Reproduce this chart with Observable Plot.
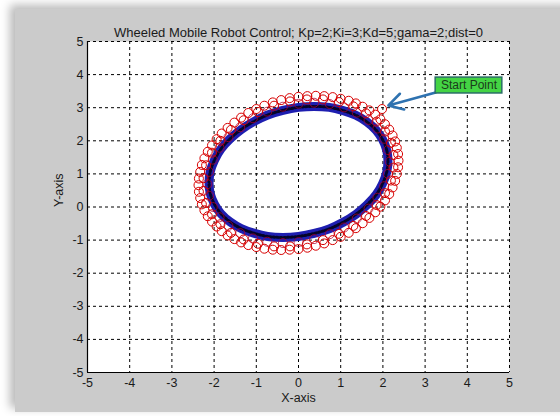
<!DOCTYPE html>
<html>
<head>
<meta charset="utf-8">
<script src="https://cdn.jsdelivr.net/npm/d3@7"></script>
<script src="https://cdn.jsdelivr.net/npm/@observablehq/plot@0.6"></script>
<style>
  html, body { margin: 0; padding: 0; background: #ffffff; width: 560px; height: 416px; overflow: hidden; }
  #panel { position: absolute; left: 15px; top: 9px; width: 560px; height: 403px; background: #cbcbcb;
           box-shadow: -5px -4px 9px rgba(0,0,0,0.28); }
  #chart { position: absolute; left: 0; top: 0; }
</style>
</head>
<body>
<div id="panel"></div>
<div id="chart"></div>
<script>
// ---- data ----
const titleText = "Wheeled Mobile Robot Control; Kp=2;Ki=3;Kd=5;gama=2;dist=0";
const xLabel = "X-axis";
const yLabel = "Y-axis";
const xTicks = [-5, -4, -3, -2, -1, 0, 1, 2, 3, 4, 5];
const yTicks = [-5, -4, -3, -2, -1, 0, 1, 2, 3, 4, 5];

// red circle markers, outer lap
const trajX1 = [2.37,2.36,2.33,2.29,2.23,2.15,2.05,1.94,1.82,1.68,1.52,1.36,1.19,1.00,0.81,0.61,0.41,0.21,0,
  -0.21,-0.41,-0.61,-0.81,-1.00,-1.19,-1.36,-1.52,-1.68,-1.82,-1.94,-2.05,-2.15,-2.23,-2.29,-2.33,-2.36,-2.37,
  -2.36,-2.33,-2.29,-2.23,-2.15,-2.05,-1.94,-1.82,-1.68,-1.52,-1.36,-1.19,-1.00,-0.81,-0.61,-0.41,-0.21,0,
  0.21,0.41,0.61,0.81,1.00,1.19,1.36,1.52,1.68,1.82,1.94,2.05,2.15,2.23,2.29,2.33,2.36, 1.98];
const trajY1 = [1.40,1.60,1.79,1.98,2.16,2.34,2.50,2.65,2.79,2.92,3.03,3.13,3.21,3.27,3.32,3.35,3.36,3.35,3.33,
  3.29,3.23,3.16,3.06,2.96,2.84,2.70,2.55,2.39,2.22,2.05,1.86,1.67,1.47,1.27,1.06,0.86,0.66,
  0.46,0.27,0.08,-0.10,-0.28,-0.44,-0.59,-0.73,-0.86,-0.97,-1.07,-1.15,-1.21,-1.26,-1.29,-1.30,-1.29,-1.27,
  -1.23,-1.17,-1.10,-1.00,-0.90,-0.78,-0.64,-0.49,-0.33,-0.16,0.01,0.20,0.39,0.59,0.79,1.00,1.20, 2.96];
// red circle markers, middle lap
const trajX2 = [2.25,2.19,2.05,1.85,1.60,1.30,0.96,0.58,0.20,-0.20,-0.58,-0.96,-1.30,-1.60,-1.85,-2.05,-2.19,-2.25,
  -2.25,-2.19,-2.05,-1.85,-1.60,-1.30,-0.96,-0.58,-0.20,0.20,0.58,0.96,1.30,1.60,1.85,2.05,2.19,2.25];
const trajY2 = [1.57,1.94,2.28,2.58,2.83,3.04,3.17,3.25,3.25,3.19,3.06,2.87,2.62,2.33,2.00,1.64,1.26,0.87,
  0.49,0.12,-0.22,-0.52,-0.78,-0.98,-1.11,-1.19,-1.19,-1.13,-1.00,-0.81,-0.57,-0.27,0.06,0.42,0.80,1.19];
// red circle markers, inner lap (over the blue path)
const trajX3 = [2.16,2.12,2.03,1.87,1.66,1.38,1.08,0.74,0.37,0,-0.37,-0.74,-1.08,-1.38,-1.66,-1.87,-2.03,-2.12,
  -2.16,-2.12,-2.03,-1.87,-1.66,-1.38,-1.08,-0.74,-0.37,0,0.37,0.74,1.08,1.38,1.66,1.87,2.03,2.12];
const trajY3 = [1.37,1.72,2.06,2.37,2.63,2.85,3.01,3.11,3.15,3.12,3.03,2.88,2.68,2.41,2.11,1.79,1.43,1.06,
  0.69,0.34,0.00,-0.31,-0.57,-0.79,-0.95,-1.05,-1.09,-1.06,-0.97,-0.82,-0.62,-0.35,-0.05,0.28,0.63,1.00];
// blue robot path
const blueX = [2.12,2.09,1.99,1.84,1.62,1.36,1.06,0.73,0.37,0,-0.37,-0.73,-1.06,-1.36,-1.62,-1.84,-1.99,-2.09,
  -2.12,-2.09,-1.99,-1.84,-1.62,-1.36,-1.06,-0.73,-0.37,0,0.37,0.73,1.06,1.36,1.62,1.84,1.99,2.09];
const blueY = [1.39,1.72,2.04,2.32,2.57,2.77,2.91,3.01,3.04,3.01,2.92,2.78,2.58,2.34,2.06,1.75,1.42,1.07,
  0.73,0.40,0.08,-0.20,-0.45,-0.65,-0.79,-0.89,-0.92,-0.89,-0.80,-0.66,-0.46,-0.22,0.06,0.37,0.70,1.05];

// annotation "Start Point"
const noteText = ["Start Point"];
const noteBox = [3.25, 4.83, 3.43, 3.91];      // x1, x2, y1, y2
const noteArrow = [3.25, 3.46, 2.13, 3.07];     // x1, y1, x2, y2

// ---- build ----
const lap1 = trajX1.map((x, i) => ({x, y: trajY1[i]}));
const lap2 = trajX2.map((x, i) => ({x, y: trajY2[i]}));
const lap3 = trajX3.map((x, i) => ({x, y: trajY3[i]}));
const path = blueX.map((x, i) => ({x, y: blueY[i]}));

const chart = Plot.plot({
  width: 560,
  height: 416,
  marginLeft: 87,
  marginRight: 51,
  marginTop: 41,
  marginBottom: 44,
  x: {domain: [-5, 5]},
  y: {domain: [-5, 5]},
  style: {background: "transparent", fontFamily: "'Liberation Sans', Arial, sans-serif", fontSize: "12.5px", color: "#1a1a1a"},
  marks: [
    Plot.frame({fill: "white", stroke: "none"}),
    Plot.gridX(xTicks, {stroke: "black", strokeOpacity: 1, strokeDasharray: "3,3", strokeWidth: 1}),
    Plot.gridY(yTicks, {stroke: "black", strokeOpacity: 1, strokeDasharray: "3,3", strokeWidth: 1}),
    Plot.ruleX([-5], {stroke: "black", strokeWidth: 1.2}),
    Plot.ruleY([-5], {stroke: "black", strokeWidth: 1.2}),
    Plot.axisX(xTicks, {tickSize: 0, tickPadding: 6, tickFormat: d => String(d), label: null, fontSize: 12.5}),
    Plot.axisY(yTicks, {tickSize: 0, tickPadding: 4, tickFormat: d => String(d), label: null, fontSize: 12.5}),
    Plot.line(path, {x: "x", y: "y", curve: "catmull-rom-closed", stroke: "#1e1eb0", strokeWidth: 9}),
    Plot.line(path, {x: "x", y: "y", curve: "catmull-rom-closed", stroke: "#000010", strokeWidth: 3, strokeDasharray: "1.5,2", strokeOpacity: 0.85}),
    Plot.dot(lap3, {x: "x", y: "y", r: 4.5, stroke: "#b00030", strokeWidth: 1, strokeOpacity: 0.75, fill: "none"}),
    Plot.dot(lap2, {x: "x", y: "y", r: 4.5, stroke: "#d00000", strokeWidth: 1, fill: "none"}),
    Plot.dot(lap1, {x: "x", y: "y", r: 4.5, stroke: "#d80000", strokeWidth: 1, fill: "none"}),
    Plot.arrow([noteArrow], {x1: d => d[0], y1: d => d[1], x2: d => d[2], y2: d => d[3], stroke: "#2e72b0", strokeWidth: 2.6, headLength: 11, bend: 0}),
    Plot.rect([noteBox], {x1: d => d[0], x2: d => d[1], y1: d => d[2], y2: d => d[3], fill: "#44d444", stroke: "#2a6e66", strokeWidth: 1.5}),
    Plot.text(noteText, {x: (noteBox[0] + noteBox[1]) / 2, y: (noteBox[2] + noteBox[3]) / 2, text: d => d, fontSize: 12, fill: "#1b3b1b"}),
    Plot.text([titleText], {frameAnchor: "top", dy: -14, text: d => d, fontSize: 13, fill: "#1a1a1a"}),
    Plot.text([xLabel], {frameAnchor: "bottom", dy: 29, text: d => d, fontSize: 12.5, fill: "#1a1a1a"}),
    Plot.text([yLabel], {frameAnchor: "left", dx: -29, rotate: -90, text: d => d, fontSize: 12.5, fill: "#1a1a1a"})
  ]
});
document.getElementById("chart").appendChild(chart);
</script>
</body>
</html>
